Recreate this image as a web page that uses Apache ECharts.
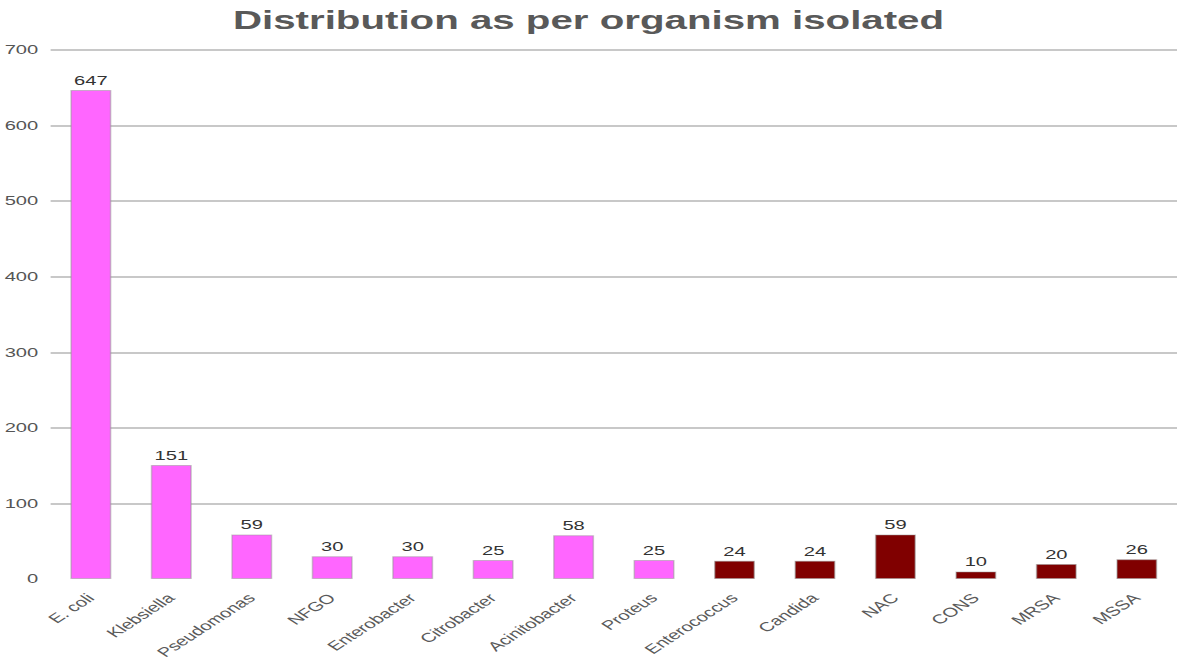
<!DOCTYPE html>
<html>
<head>
<meta charset="utf-8">
<script src="https://cdn.jsdelivr.net/npm/echarts@6/dist/echarts.min.js"></script>
<style>
  html, body { margin: 0; padding: 0; background: #fff; overflow: hidden; }
  /* The chart is laid out on a narrower canvas and widened to the page width */
  #chart { width: 760px; height: 665px; transform: scaleX(1.5487); transform-origin: 0 0; }
</style>
</head>
<body>
<div id="chart"></div>
<script>
// Organisms isolated and their counts
const organisms = ['E. coli', 'Klebsiella', 'Pseudomonas', 'NFGO', 'Enterobacter', 'Citrobacter',
  'Acinitobacter', 'Proteus', 'Enterococcus', 'Candida', 'NAC', 'CONS', 'MRSA', 'MSSA'];
const counts = [647, 151, 59, 30, 30, 25, 58, 25, 24, 24, 59, 10, 20, 26];
// Gram-negative organisms in pink, the rest in maroon
const groups = ['gn', 'gn', 'gn', 'gn', 'gn', 'gn', 'gn', 'gn', 'other', 'other', 'other', 'other', 'other', 'other'];
const groupColors = { gn: '#FF66FF', other: '#800000' };

const chart = echarts.init(document.getElementById('chart'), null, { renderer: 'svg' });
const font = 'Liberation Sans, Arial, sans-serif';

chart.setOption({
  animation: false,
  title: {
    text: 'Distribution as per organism isolated',
    left: 'center',
    top: 2,
    textStyle: { fontFamily: font, fontSize: 26, fontWeight: 'bold', color: '#595959' }
  },
  grid: { left: 32, right: 0, top: 50, bottom: 86, containLabel: false },
  xAxis: {
    type: 'category',
    data: organisms,
    axisLine: { show: false },
    axisTick: { show: false },
    axisLabel: {
      rotate: 45,
      interval: 0,
      margin: 17,
      fontFamily: font,
      fontSize: 13,
      color: '#5a5a5a'
    }
  },
  yAxis: {
    type: 'value',
    min: 0,
    max: 700,
    interval: 100,
    axisLine: { show: false },
    axisTick: { show: false },
    axisLabel: { fontFamily: font, fontSize: 13, color: '#555', margin: 8 },
    splitLine: {
      lineStyle: { color: '#c8c8c8', width: 2 },
      showMinLine: false
    }
  },
  series: [{
    type: 'bar',
    barWidth: '51%',
    data: counts.map((v, i) => ({
      value: v,
      itemStyle: { color: groupColors[groups[i]] }
    })),
    itemStyle: { borderColor: 'rgba(150,150,150,0.5)', borderWidth: 1 },
    label: {
      show: true,
      position: 'top',
      distance: 3,
      fontFamily: font,
      fontSize: 13,
      color: '#333'
    }
  }]
});
</script>
</body>
</html>
